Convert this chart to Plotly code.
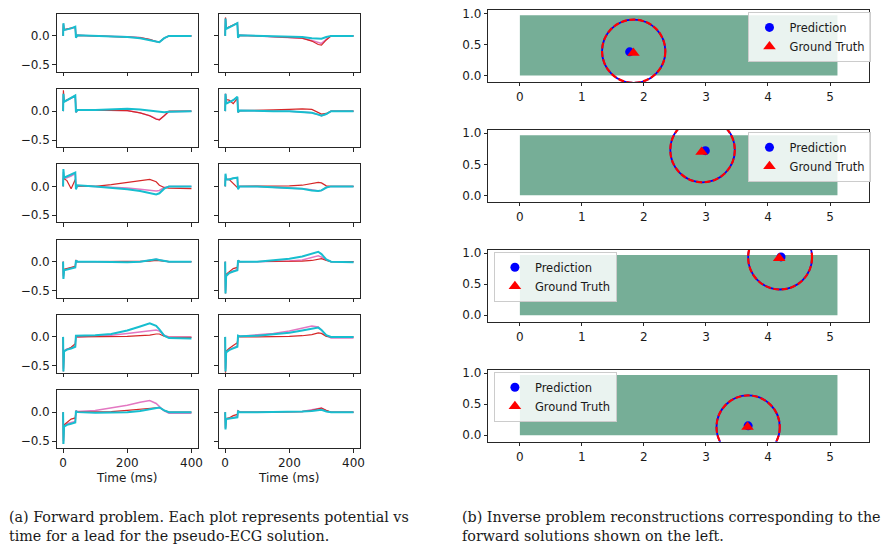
import plotly.graph_objects as go

# ---------------- data ----------------
T = [0, 1, 3, 12, 25, 38, 40, 45, 100, 150, 200, 240, 270, 290, 300, 315, 330, 400]

r1c1_red  = [0.0, 0.20, 0.11, 0.12, 0.13, 0.15, -0.02, 0.01, 0.0, -0.01, -0.02, -0.03, -0.06, -0.10, -0.10, -0.04, 0.0, 0.0]
r1c1_pink = [0.0, 0.21, 0.10, 0.11, 0.13, 0.15, -0.02, 0.01, 0.0, -0.005, -0.015, -0.03, -0.07, -0.10, -0.11, -0.04, 0.0, 0.0]
r1c1_cyan = [0.0, 0.22, 0.10, 0.11, 0.13, 0.16, -0.03, 0.01, 0.0, -0.01, -0.02, -0.04, -0.08, -0.11, -0.11, -0.04, 0.0, 0.0]

r1c2_red  = [0.0, 0.32, 0.13, 0.15, 0.18, 0.22, -0.03, 0.01, 0.0, -0.01, -0.02, -0.04, -0.09, -0.15, -0.16, -0.07, 0.0, 0.0]
r1c2_pink = [0.0, 0.30, 0.13, 0.15, 0.18, 0.22, -0.03, 0.01, 0.0, -0.01, -0.02, -0.04, -0.08, -0.12, -0.13, -0.06, 0.0, 0.0]
r1c2_cyan = [0.0, 0.30, 0.12, 0.15, 0.18, 0.22, -0.03, 0.01, 0.0, -0.005, -0.01, -0.02, -0.04, -0.05, -0.05, -0.02, 0.0, 0.0]

r2c1_red  = [0.0, 0.36, 0.17, 0.20, 0.23, 0.27, -0.02, 0.02, 0.02, 0.02, 0.01, -0.03, -0.08, -0.14, -0.15, -0.08, 0.0, 0.0]
r2c1_pink = [0.0, 0.30, 0.16, 0.19, 0.22, 0.26, -0.02, 0.02, 0.02, 0.02, 0.01, -0.03, -0.08, -0.13, -0.15, -0.08, -0.01, 0.0]
r2c1_cyan = [0.0, 0.30, 0.16, 0.19, 0.22, 0.27, -0.02, 0.02, 0.02, 0.03, 0.04, 0.03, 0.01, -0.01, -0.02, -0.02, -0.01, 0.0]

r2c2_red  = [0.0, 0.30, 0.20, 0.19, 0.13, 0.22, -0.02, 0.01, 0.01, 0.02, 0.03, 0.04, 0.03, -0.02, -0.05, -0.04, 0.0, 0.0]
r2c2_pink = [0.0, 0.30, 0.14, 0.16, 0.19, 0.24, -0.02, 0.01, 0.0, 0.0, 0.0, -0.01, -0.03, -0.06, -0.08, -0.05, 0.0, 0.0]
r2c2_cyan = [0.0, 0.30, 0.13, 0.16, 0.19, 0.25, -0.02, 0.01, 0.0, 0.0, 0.0, -0.01, -0.03, -0.06, -0.08, -0.05, 0.0, 0.0]

r3c1_red  = [0.0, 0.15, 0.13, 0.10, -0.04, 0.12, -0.02, 0.01, 0.0, 0.03, 0.07, 0.10, 0.12, 0.08, 0.02, -0.02, -0.03, -0.04]
r3c1_pink = [0.0, 0.25, 0.14, 0.15, 0.18, 0.22, -0.03, 0.01, 0.0, -0.01, -0.03, -0.05, -0.07, -0.08, -0.07, -0.02, 0.0, 0.0]
r3c1_cyan = [0.0, 0.30, 0.15, 0.17, 0.20, 0.24, -0.05, 0.02, 0.0, -0.02, -0.05, -0.08, -0.11, -0.14, -0.12, -0.04, 0.0, 0.0]

r3c2_red  = [0.0, 0.15, 0.12, 0.12, 0.05, -0.02, -0.03, 0.0, 0.0, 0.0, 0.01, 0.02, 0.05, 0.07, 0.06, 0.01, 0.0, 0.0]
r3c2_pink = [0.0, 0.20, 0.12, 0.12, 0.14, 0.15, -0.04, 0.0, 0.0, -0.01, -0.02, -0.04, -0.06, -0.08, -0.07, -0.02, 0.0, 0.0]
r3c2_cyan = [0.0, 0.22, 0.12, 0.12, 0.14, 0.15, -0.05, 0.0, 0.0, -0.01, -0.02, -0.04, -0.07, -0.08, -0.07, -0.02, 0.0, 0.0]

r4c1_red  = [0.0, -0.25, -0.13, -0.12, -0.10, -0.08, 0.02, 0.0, 0.0, 0.0, 0.0, 0.0, 0.01, 0.02, 0.02, 0.01, 0.0, 0.0]
r4c1_pink = [0.0, -0.28, -0.14, -0.13, -0.11, -0.09, 0.02, 0.0, 0.0, -0.005, 0.0, 0.0, 0.02, 0.04, 0.03, 0.01, 0.0, 0.0]
r4c1_cyan = [0.0, -0.30, -0.15, -0.14, -0.12, -0.10, 0.02, 0.0, 0.0, -0.01, -0.01, 0.0, 0.02, 0.04, 0.03, 0.01, 0.0, 0.0]

r4c2_red  = [0.0, -0.55, -0.22, -0.18, -0.12, -0.10, 0.02, 0.0, 0.0, 0.0, 0.0, 0.01, 0.02, 0.04, 0.05, 0.02, 0.0, 0.0]
r4c2_pink = [0.0, -0.50, -0.24, -0.20, -0.16, -0.14, 0.02, 0.0, 0.0, 0.0, 0.01, 0.03, 0.07, 0.10, 0.08, 0.03, 0.0, 0.0]
r4c2_cyan = [0.0, -0.55, -0.25, -0.20, -0.17, -0.15, 0.02, 0.0, 0.0, 0.02, 0.05, 0.09, 0.14, 0.17, 0.13, 0.04, 0.0, -0.01]

r5c1_red  = [0.0, -0.60, -0.25, -0.22, -0.18, -0.12, 0.02, 0.0, 0.0, 0.0, 0.01, 0.02, 0.03, 0.05, 0.05, 0.01, -0.01, -0.01]
r5c1_pink = [0.0, -0.55, -0.24, -0.21, -0.19, -0.16, 0.02, 0.0, 0.02, 0.03, 0.06, 0.09, 0.11, 0.12, 0.10, 0.03, 0.0, 0.0]
r5c1_cyan = [0.0, -0.60, -0.25, -0.22, -0.20, -0.17, 0.02, 0.02, 0.03, 0.05, 0.11, 0.18, 0.235, 0.19, 0.13, 0.02, -0.02, -0.03]

r5c2_red  = [0.0, -0.62, -0.25, -0.20, -0.15, -0.10, 0.02, 0.0, 0.0, 0.0, 0.01, 0.02, 0.04, 0.07, 0.06, 0.01, 0.0, 0.0]
r5c2_pink = [0.0, -0.55, -0.25, -0.22, -0.19, -0.16, 0.02, 0.01, 0.03, 0.06, 0.10, 0.15, 0.19, 0.17, 0.12, 0.02, -0.02, -0.02]
r5c2_cyan = [0.0, -0.60, -0.27, -0.23, -0.20, -0.17, 0.02, 0.01, 0.02, 0.04, 0.07, 0.11, 0.14, 0.16, 0.12, 0.03, 0.0, 0.0]

r6c1_red  = [0.0, -0.55, -0.22, -0.18, -0.12, -0.10, 0.02, 0.0, 0.0, 0.01, 0.03, 0.05, 0.06, 0.07, 0.08, 0.03, 0.0, 0.0]
r6c1_pink = [0.0, -0.50, -0.23, -0.20, -0.18, -0.16, 0.02, 0.01, 0.03, 0.07, 0.12, 0.17, 0.20, 0.15, 0.10, 0.02, -0.02, -0.02]
r6c1_cyan = [0.0, -0.55, -0.25, -0.22, -0.20, -0.18, 0.02, 0.0, -0.01, -0.01, 0.0, 0.02, 0.05, 0.08, 0.08, 0.03, 0.0, 0.0]

r6c2_red  = [0.0, -0.28, -0.11, -0.10, -0.06, -0.04, 0.02, 0.0, 0.0, 0.0, 0.0, 0.01, 0.03, 0.06, 0.07, 0.03, 0.0, 0.0]
r6c2_pink = [0.0, -0.28, -0.12, -0.11, -0.09, -0.08, 0.02, 0.0, 0.0, 0.0, 0.0, 0.01, 0.04, 0.06, 0.07, 0.02, 0.0, 0.0]
r6c2_cyan = [0.0, -0.30, -0.12, -0.11, -0.10, -0.09, 0.02, 0.0, 0.0, 0.0, 0.0, 0.01, 0.02, 0.04, 0.04, 0.01, 0.0, 0.0]

ecg_panels = [
    [(r1c1_red, r1c1_pink, r1c1_cyan), (r1c2_red, r1c2_pink, r1c2_cyan)],
    [(r2c1_red, r2c1_pink, r2c1_cyan), (r2c2_red, r2c2_pink, r2c2_cyan)],
    [(r3c1_red, r3c1_pink, r3c1_cyan), (r3c2_red, r3c2_pink, r3c2_cyan)],
    [(r4c1_red, r4c1_pink, r4c1_cyan), (r4c2_red, r4c2_pink, r4c2_cyan)],
    [(r5c1_red, r5c1_pink, r5c1_cyan), (r5c2_red, r5c2_pink, r5c2_cyan)],
    [(r6c1_red, r6c1_pink, r6c1_cyan), (r6c2_red, r6c2_pink, r6c2_cyan)],
]

ecg_xticks = [0, 200, 400]
ecg_yticks = [-0.5, 0.0]
ecg_yticktext = ["\u22120.5", "0.0"]

# inverse problem
domain_w = 5.12
domain_h = 0.97
pred_x = [1.77, 2.99, 4.21, 3.68]
pred_y = [0.38, 0.72, 0.94, 0.15]
true_x = [1.83, 2.93, 4.18, 3.67]
true_y = [0.36, 0.70, 0.92, 0.13]
circle_x = [1.835, 2.945, 4.195, 3.68]
circle_y = [0.39, 0.73, 0.93, 0.13]
radius = [0.51, 0.52, 0.515, 0.51]
inv_xticks = [0, 1, 2, 3, 4, 5]
inv_yticks = [0.0, 0.5, 1.0]
inv_yticktext = ["0.0", "0.5", "1.0"]
legend_side = ["right", "right", "left", "left"]

caption_a = ["(a) Forward problem. Each plot represents potential vs",
             "time for a lead for the pseudo-ECG solution."]
caption_b = ["(b) Inverse problem reconstructions corresponding to the",
             "forward solutions shown on the left."]

# ---------------- layout helpers ----------------
W, H = 891, 552
def px_x(a, b):
    return [a / W, b / W]
def px_y(top, bottom):
    return [1 - bottom / H, 1 - top / H]

RED, PINK, CYAN = "#d62728", "#e377c2", "#17becf"
AXC = "#262626"
TICKFONT = dict(family="DejaVu Sans", size=12, color="#1a1a1a")

fig = go.Figure()
layout = dict(width=W, height=H, margin=dict(l=0, r=0, t=0, b=0),
              paper_bgcolor="white", plot_bgcolor="white", showlegend=True)
shapes = []
annotations = []

def axis_common():
    return dict(showline=True, mirror=True, linecolor=AXC, linewidth=1,
                ticks="outside", ticklen=3.5, tickwidth=1, tickcolor=AXC,
                showgrid=False, zeroline=False, tickfont=TICKFONT)

col_x = [(57, 199), (220, 362)]
row_tops = [11, 86.8, 162.6, 238.4, 314.2, 390]
row_h = 58.5

k = 0
for r, row in enumerate(ecg_panels):
    for c, series in enumerate(row):
        k += 1
        xa = "xaxis" if k == 1 else f"xaxis{k}"
        ya = "yaxis" if k == 1 else f"yaxis{k}"
        xr = "x" if k == 1 else f"x{k}"
        yr = "y" if k == 1 else f"y{k}"
        red, pink, cyan = series
        for vals, col, w in ((pink, PINK, 1.5), (red, RED, 1.2), (cyan, CYAN, 2.0)):
            fig.add_trace(go.Scatter(x=T, y=vals, mode="lines",
                                     line=dict(color=col, width=w),
                                     xaxis=xr, yaxis=yr, showlegend=False,
                                     hoverinfo="skip"))
        xd = axis_common()
        xd.update(domain=px_x(*col_x[c]), range=[-20, 420], anchor=yr,
                  tickvals=ecg_xticks, showticklabels=(r == 5))
        yd = axis_common()
        yd.update(domain=px_y(row_tops[r], row_tops[r] + row_h), range=[-0.625, 0.38],
                  anchor=xr, tickvals=ecg_yticks, ticktext=ecg_yticktext,
                  showticklabels=(c == 0))
        layout[xa] = xd
        layout[ya] = yd

for c in range(2):
    annotations.append(dict(text="Time (ms)", x=(col_x[c][0] + col_x[c][1]) / 2 / W,
                            y=1 - 478 / H, xref="paper", yref="paper",
                            showarrow=False, xanchor="center", yanchor="middle",
                            font=dict(family="DejaVu Sans", size=12, color="#1a1a1a")))

inv_tops = [7, 127.8, 248.6, 369.4]
inv_h = 72.5
for i in range(4):
    k += 1
    xa, ya = f"xaxis{k}", f"yaxis{k}"
    xr, yr = f"x{k}", f"y{k}"
    lg = "legend" if i == 0 else f"legend{i + 1}"
    shapes.append(dict(type="rect", xref=xr, yref=yr, x0=0, x1=domain_w, y0=0, y1=domain_h,
                       fillcolor="#76ae97", line=dict(width=0), layer="below"))
    shapes.append(dict(type="circle", xref=xr, yref=yr,
                       x0=circle_x[i] - radius[i], x1=circle_x[i] + radius[i],
                       y0=circle_y[i] - radius[i], y1=circle_y[i] + radius[i],
                       line=dict(color="#0000ff", width=1.8), layer="below"))
    shapes.append(dict(type="circle", xref=xr, yref=yr,
                       x0=circle_x[i] - radius[i], x1=circle_x[i] + radius[i],
                       y0=circle_y[i] - radius[i], y1=circle_y[i] + radius[i],
                       line=dict(color="#ff0000", width=2.2, dash="6px,2.5px"), layer="below"))
    fig.add_trace(go.Scatter(x=[pred_x[i]], y=[pred_y[i]], mode="markers", name="Prediction",
                             marker=dict(color="#0000ff", size=9, symbol="circle"),
                             xaxis=xr, yaxis=yr, legend=lg))
    fig.add_trace(go.Scatter(x=[true_x[i]], y=[true_y[i]], mode="markers", name="Ground Truth",
                             marker=dict(color="#ff0000", size=11, symbol="triangle-up"),
                             xaxis=xr, yaxis=yr, legend=lg))
    xd = axis_common()
    xd.update(domain=px_x(491, 874), range=[-0.51, 5.63], anchor=yr, tickvals=inv_xticks)
    yd = axis_common()
    yd.update(domain=px_y(inv_tops[i], inv_tops[i] + inv_h), range=[-0.105, 1.055],
              anchor=xr, tickvals=inv_yticks, ticktext=inv_yticktext)
    layout[xa] = xd
    layout[ya] = yd
    lx = 752.7 if legend_side[i] == "right" else 496.7
    ly = inv_tops[i] + 2.0
    layout[lg] = dict(x=lx / W, y=1 - ly / H, xref="paper", yref="paper",
                      xanchor="left", yanchor="top",
                      bgcolor="rgba(255,255,255,0.85)", bordercolor="#cccccc", borderwidth=1,
                      font=dict(family="DejaVu Sans", size=11.5, color="#1a1a1a"),
                      tracegroupgap=0, itemsizing="trace")

capfont = dict(family="DejaVu Serif", size=14.3, color="#1a1a1a")
for j, line in enumerate(caption_a):
    annotations.append(dict(text=line, x=7 / W, y=1 - (518 + 19 * j) / H, xref="paper", yref="paper",
                            showarrow=False, xanchor="left", yanchor="middle", font=capfont))
for j, line in enumerate(caption_b):
    annotations.append(dict(text=line, x=463 / W, y=1 - (518 + 19 * j) / H, xref="paper", yref="paper",
                            showarrow=False, xanchor="left", yanchor="middle", font=capfont))

layout["shapes"] = shapes
layout["annotations"] = annotations
fig.update_layout(**layout)
fig.write_html("out.html")
